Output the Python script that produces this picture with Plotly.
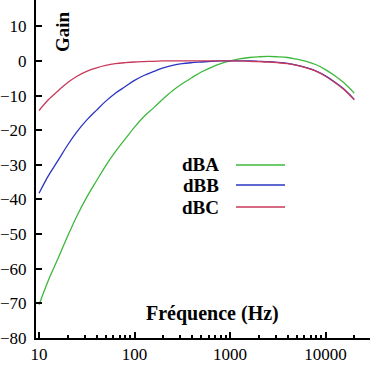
import plotly.graph_objects as go

freq = [10, 12.5, 16, 20, 25, 31.5, 40, 50, 63, 80, 100, 125, 160, 200, 250, 315, 400, 500,
        630, 800, 1000, 1250, 1600, 2000, 2500, 3150, 4000, 5000, 6300, 8000, 10000, 12500, 16000, 20000]
dBA = [-70.4, -63.4, -56.7, -50.5, -44.7, -39.4, -34.6, -30.2, -26.2, -22.5, -19.1, -16.1, -13.4, -10.9,
       -8.6, -6.6, -4.8, -3.2, -1.9, -0.8, 0.0, 0.6, 1.0, 1.2, 1.3, 1.2, 1.0, 0.5, -0.1, -1.1, -2.5, -4.3, -6.6, -9.3]
dBB = [-38.2, -33.2, -28.5, -24.2, -20.4, -17.1, -14.2, -11.6, -9.3, -7.4, -5.6, -4.2, -3.0, -2.0,
       -1.3, -0.8, -0.5, -0.3, -0.1, 0.0, 0.0, 0.0, 0.0, -0.1, -0.2, -0.4, -0.7, -1.2, -1.9, -2.9, -4.3, -6.1, -8.4, -11.1]
dBC = [-14.3, -11.2, -8.5, -6.2, -4.4, -3.0, -2.0, -1.3, -0.8, -0.5, -0.3, -0.2, -0.1, 0.0,
       0.0, 0.0, 0.0, 0.0, 0.0, 0.0, 0.0, 0.0, -0.1, -0.2, -0.3, -0.5, -0.8, -1.3, -2.0, -3.0, -4.4, -6.2, -8.5, -11.2]

series = [("dBA", dBA, "#3cb83c"), ("dBB", dBB, "#2a35c0"), ("dBC", dBC, "#c8385a")]
x_ticks = [10, 100, 1000, 10000]
y_ticks = [-80, -70, -60, -50, -40, -30, -20, -10, 0, 10]

fig = go.Figure()
for name, vals, col in series:
    fig.add_trace(go.Scatter(x=freq, y=vals, mode="lines", name=name,
                             line=dict(color=col, width=1.3, shape="spline", smoothing=1.0)))

font = "Liberation Serif"
fig.update_layout(
    width=370, height=369, margin=dict(l=36, r=0, t=0, b=31),
    paper_bgcolor="white", plot_bgcolor="white", showlegend=False,
    font=dict(family=font, size=17, color="black"),
    xaxis=dict(type="log", range=[0.968, 4.466], tickvals=x_ticks, ticktext=[str(v) for v in x_ticks],
               ticks="inside", ticklen=6, tickwidth=1.5, tickcolor="black", automargin=False,
               showline=True, linecolor="black", linewidth=2, showgrid=False, zeroline=False,
               minor=dict(ticks="inside", ticklen=3, tickcolor="black", dtick="D1", showgrid=False)),
    yaxis=dict(range=[-80, 17.6], tickvals=y_ticks, ticks="inside", ticklen=6, tickwidth=1.5,
               tickcolor="black", showline=True, linecolor="black", linewidth=2, automargin=False,
               showgrid=False, zeroline=False, ticklabelstandoff=4),
)

def px(xp, yp):
    return (xp - 36) / 334, 1 - yp / 338

ax, ay = px(62, 32)
fig.add_annotation(x=ax, y=ay, xref="paper", yref="paper", text="<b>Gain</b>", textangle=-90,
                   xanchor="center", yanchor="middle",
                   showarrow=False, font=dict(family=font, size=19))
ax, ay = px(212, 313)
fig.add_annotation(x=ax, y=ay, xref="paper", yref="paper", text="<b>Fréquence (Hz)</b>",
                   xanchor="center", yanchor="middle",
                   showarrow=False, font=dict(family=font, size=20))
for (name, vals, col), yp in zip(series, [165, 185, 207]):
    tx, ty = px(221, yp)
    fig.add_annotation(x=tx, y=ty, xref="paper", yref="paper", text="<b>%s</b>" % name,
                       xanchor="right", yanchor="middle", showarrow=False,
                       font=dict(family=font, size=19))
    x0, y0 = px(236, yp)
    x1, _ = px(285, yp)
    fig.add_shape(type="line", xref="paper", yref="paper", x0=x0, x1=x1, y0=y0, y1=y0,
                  line=dict(color=col, width=1.3))

fig.write_html("out.html", config={"displayModeBar": False},
               post_script="document.body.style.margin='0';document.body.style.overflow='hidden';")
